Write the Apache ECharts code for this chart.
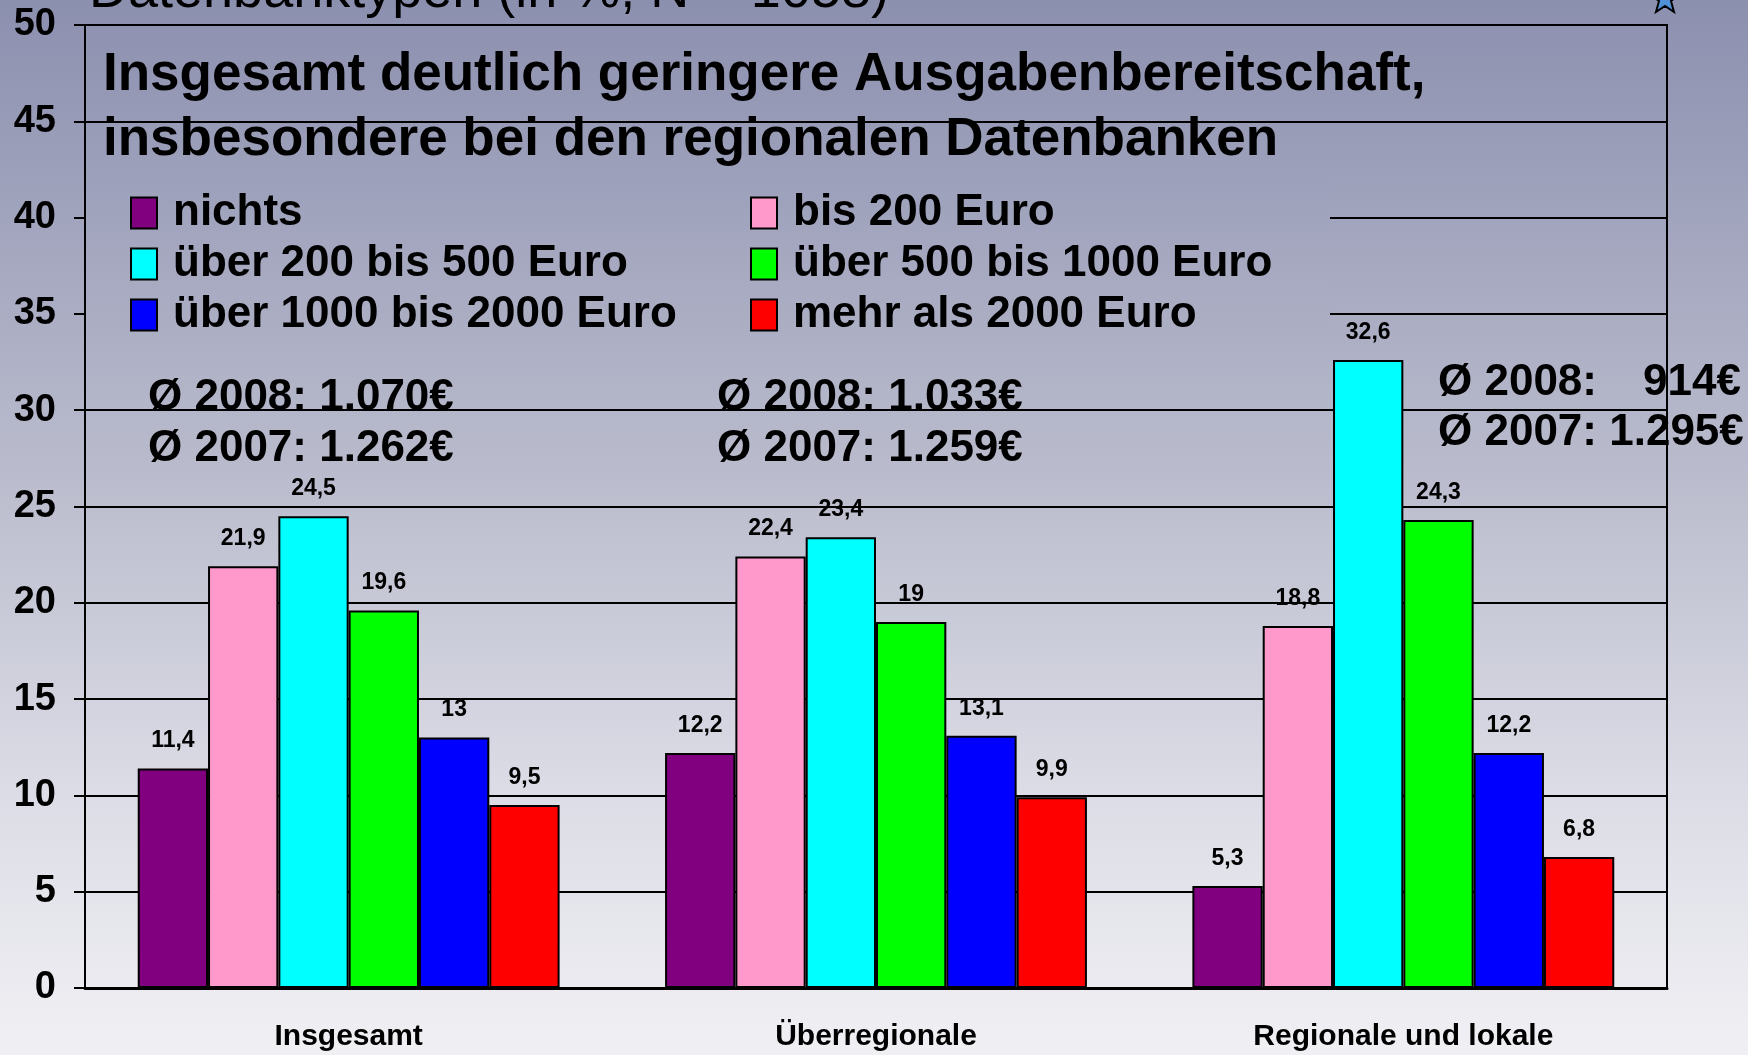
<!DOCTYPE html>
<html>
<head>
<meta charset="utf-8">
<script src="https://cdn.jsdelivr.net/npm/echarts@6/dist/echarts.min.js"></script>
<style>
  html, body { margin: 0; padding: 0; }
  #chart { width: 1748px; height: 1055px; }
</style>
</head>
<body>
<div id="chart"></div>
<script>
const categories = ['Insgesamt', 'Überregionale', 'Regionale und lokale'];
const seriesNames = ['nichts', 'bis 200 Euro', 'über 200 bis 500 Euro', 'über 500 bis 1000 Euro', 'über 1000 bis 2000 Euro', 'mehr als 2000 Euro'];
const nichts = [11.4, 12.2, 5.3];
const bis200 = [21.9, 22.4, 18.8];
const bis500 = [24.5, 23.4, 32.6];
const bis1000 = [19.6, 19, 24.3];
const bis2000 = [13, 13.1, 12.2];
const mehr2000 = [9.5, 9.9, 6.8];
const colors = ['#800080', '#ff99cc', '#00ffff', '#00ff00', '#0000ff', '#ff0000'];
const averages = [
    ['Ø 2008: 1.070€', 'Ø 2007: 1.262€'],
    ['Ø 2008: 1.033€', 'Ø 2007: 1.259€'],
    ['Ø 2008:', '914€', 'Ø 2007: 1.295€']
];

const FONT = '"Liberation Sans", Arial, sans-serif';
const H = 1055;

// page background stops, reused for the legend boxes that hide the grid lines
const bgStops = [
    [0, [140, 144, 175]],
    [0.45, [186, 188, 205]],
    [0.75, [220, 220, 230]],
    [1, [240, 240, 244]]
];
function bgAt(y) {
    const f = y / H;
    for (let i = 1; i < bgStops.length; i++) {
        if (f <= bgStops[i][0]) {
            const [f0, c0] = bgStops[i - 1];
            const [f1, c1] = bgStops[i];
            const t = (f - f0) / (f1 - f0);
            return 'rgb(' + c0.map((c, k) => Math.round(c + (c1[k] - c) * t)).join(',') + ')';
        }
    }
    return 'rgb(' + bgStops[bgStops.length - 1][1].join(',') + ')';
}
const rgb = c => 'rgb(' + c.join(',') + ')';

const legendTop = 167, legendBottom = 340;
const legendBg = {
    type: 'linear', x: 0, y: 0, x2: 0, y2: 1,
    colorStops: [{ offset: 0, color: bgAt(legendTop) }, { offset: 1, color: bgAt(legendBottom) }]
};

const values = [nichts, bis200, bis500, bis1000, bis2000, mehr2000];

const chart = echarts.init(document.getElementById('chart'));

const legendCommon = {
    orient: 'vertical',
    top: legendTop,
    icon: 'rect',
    itemWidth: 26,
    itemHeight: 31,
    itemGap: 7,
    backgroundColor: legendBg,
    selectedMode: false,
    textStyle: {
        fontFamily: FONT, fontSize: 44, fontWeight: 'bold', color: '#000',
        lineHeight: 44, overflow: 'truncate', padding: [0, 0, 0, 11]
    }
};

const avgText = (x, y, text, align) => ({
    type: 'text', x: x, y: y, z: 10,
    style: { text: text, fontFamily: FONT, fontSize: 44, fontWeight: 'bold', fill: '#000', align: align || 'left', verticalAlign: 'middle' }
});

const option = {
    backgroundColor: {
        type: 'linear', x: 0, y: 0, x2: 0, y2: 1,
        colorStops: bgStops.map(s => ({ offset: s[0], color: rgb(s[1]) }))
    },
    animation: false,
    color: colors,
    title: {
        text: 'Insgesamt deutlich geringere Ausgabenbereitschaft,\ninsbesondere bei den regionalen Datenbanken',
        left: 103,
        top: 43,
        padding: 0,
        textStyle: { fontFamily: FONT, fontSize: 53, fontWeight: 'bold', color: '#000', lineHeight: 65 }
    },
    legend: [
        Object.assign({}, legendCommon, {
            left: 86,
            padding: [24, 0, 3, 44],
            data: [seriesNames[0], seriesNames[2], seriesNames[4]],
            textStyle: Object.assign({}, legendCommon.textStyle, { width: 548 })
        }),
        Object.assign({}, legendCommon, {
            left: 720,
            padding: [24, 0, 3, 30],
            data: [seriesNames[1], seriesNames[3], seriesNames[5]],
            textStyle: Object.assign({}, legendCommon.textStyle, { width: 537 })
        })
    ],
    grid: {
        left: 85, right: 81, top: 25, bottom: 67,
        show: true, borderColor: '#000', borderWidth: 2, backgroundColor: 'transparent'
    },
    xAxis: {
        type: 'category',
        data: categories,
        axisLine: { lineStyle: { color: '#000', width: 3 } },
        axisTick: { length: 11, lineStyle: { color: '#000', width: 2 } },
        axisLabel: { fontFamily: FONT, fontSize: 30, fontWeight: 'bold', color: '#000', margin: 34 }
    },
    yAxis: {
        type: 'value',
        min: 0, max: 50, interval: 5,
        axisLine: { show: true, lineStyle: { color: '#000', width: 2 } },
        axisTick: { show: true, length: 11, lineStyle: { color: '#000', width: 2 } },
        splitLine: { lineStyle: { color: '#000', width: 2 } },
        axisLabel: { fontFamily: FONT, fontSize: 38, fontWeight: 'bold', color: '#000', margin: 29 }
    },
    series: seriesNames.map((name, i) => ({
        name: name,
        type: 'bar',
        data: values[i],
        barGap: 0,
        barCategoryGap: '20%',
        itemStyle: { borderColor: '#000', borderWidth: 2 },
        label: {
            show: true,
            position: 'top',
            distance: 16,
            fontFamily: FONT,
            fontSize: 23,
            fontWeight: 'bold',
            color: '#000',
            formatter: p => String(p.value).replace('.', ',')
        }
    })),
    graphic: [
        {
            type: 'text', x: 89, y: -8, z: 10,
            style: { text: 'Datenbanktypen (in %, N = 1058)', fontFamily: FONT, fontSize: 54, fill: '#000', verticalAlign: 'middle' }
        },
        {
            type: 'polygon', z: 10,
            shape: { points: [[1665, -16], [1669, -6], [1679, -5], [1671, 1], [1674, 12], [1665, 6], [1656, 12], [1659, 1], [1651, -5], [1661, -6]] },
            style: { fill: '#4f8fd6', stroke: '#000', lineWidth: 2 }
        },
        avgText(148, 398, averages[0][0]),
        avgText(148, 449, averages[0][1]),
        avgText(717, 398, averages[1][0]),
        avgText(717, 449, averages[1][1]),
        avgText(1438, 383, averages[2][0]),
        avgText(1741, 383, averages[2][1], 'right'),
        avgText(1438, 433, averages[2][2])
    ]
};

chart.setOption(option);

window.addEventListener('resize', () => {
    chart.resize();
});
</script>
</body>
</html>
